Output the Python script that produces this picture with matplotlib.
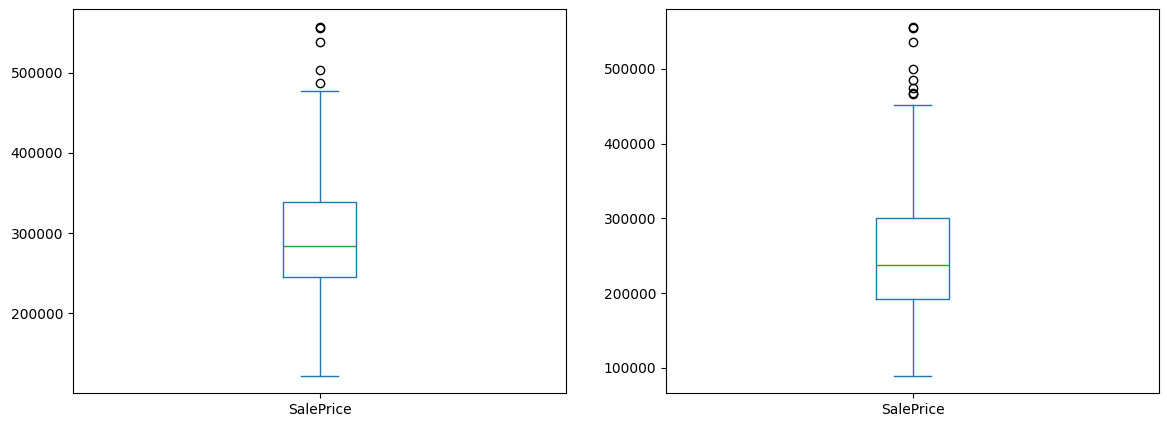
import matplotlib
matplotlib.use("Agg")
import matplotlib.pyplot as plt

# Box stats (SalePrice)
label = "SalePrice"

left_whislo = 122000
left_q1 = 245700
left_med = 284400
left_q3 = 339200
left_whishi = 476700
left_fliers = [486700, 502900, 538600, 555500, 557400]

right_whislo = 89300
right_q1 = 192400
right_med = 238300
right_q3 = 301000
right_whishi = 452400
right_fliers = [466000, 468000, 475000, 485300, 500400, 536400, 555000, 556500]

blue = "#1f77b4"
green = "#2ca02c"


def make_stats(whislo, q1, med, q3, whishi, fliers):
    return [{"label": label, "whislo": whislo, "q1": q1, "med": med,
             "q3": q3, "whishi": whishi, "fliers": fliers}]


fig = plt.figure(figsize=(11.67, 4.28), dpi=100)
W, H = 1167, 428
ax1 = fig.add_axes([73 / W, (H - 393.3) / H, 493 / W, 384 / H])
ax2 = fig.add_axes([666 / W, (H - 393.3) / H, 493 / W, 384 / H])

panels = [
    (ax1, make_stats(left_whislo, left_q1, left_med, left_q3, left_whishi, left_fliers)),
    (ax2, make_stats(right_whislo, right_q1, right_med, right_q3, right_whishi, right_fliers)),
]

for ax, stats in panels:
    ax.bxp(stats, positions=[1], widths=0.15,
           boxprops=dict(color=blue),
           whiskerprops=dict(color=blue),
           capprops=dict(color=blue),
           medianprops=dict(color=green),
           flierprops=dict(marker="o", markerfacecolor="none",
                           markeredgecolor="black"))
    ax.set_xlim(0.5, 1.5)

fig.savefig("out.png", dpi=100)
